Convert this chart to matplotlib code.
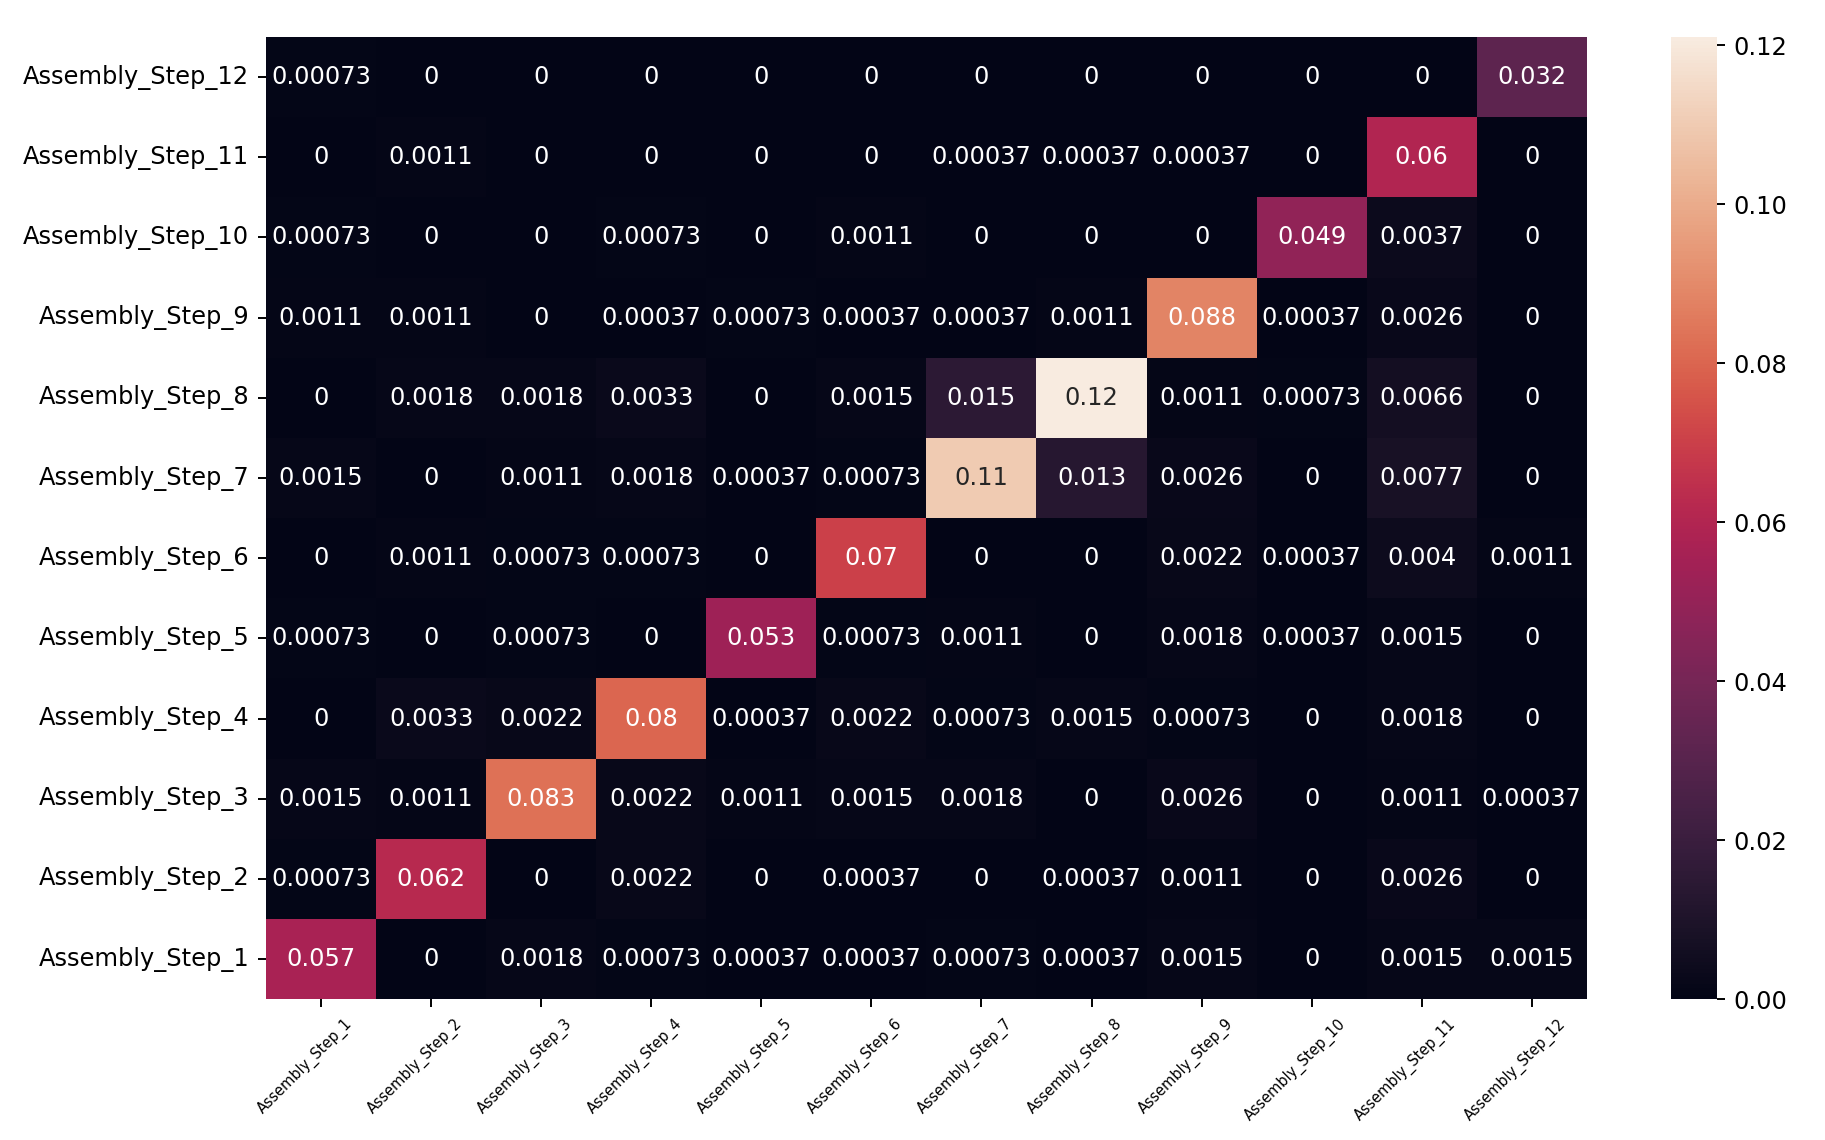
import numpy as np
import pandas as pd
import seaborn as sns
from matplotlib import pyplot as plt
from matplotlib import transforms
from matplotlib.colors import ListedColormap

steps = ["Assembly_Step_%d" % i for i in range(1, 13)]

# rows listed top to bottom: Assembly_Step_12 ... Assembly_Step_1
row_labels = steps[::-1]
col_labels = steps

step_12 = [0.00073, 0, 0, 0, 0, 0, 0, 0, 0, 0, 0, 0.032]
step_11 = [0, 0.0011, 0, 0, 0, 0, 0.00037, 0.00037, 0.00037, 0, 0.06, 0]
step_10 = [0.00073, 0, 0, 0.00073, 0, 0.0011, 0, 0, 0, 0.049, 0.0037, 0]
step_9 = [0.0011, 0.0011, 0, 0.00037, 0.00073, 0.00037, 0.00037, 0.0011, 0.088, 0.00037, 0.0026, 0]
step_8 = [0, 0.0018, 0.0018, 0.0033, 0, 0.0015, 0.015, 0.121, 0.0011, 0.00073, 0.0066, 0]
step_7 = [0.0015, 0, 0.0011, 0.0018, 0.00037, 0.00073, 0.11, 0.013, 0.0026, 0, 0.0077, 0]
step_6 = [0, 0.0011, 0.00073, 0.00073, 0, 0.07, 0, 0, 0.0022, 0.00037, 0.004, 0.0011]
step_5 = [0.00073, 0, 0.00073, 0, 0.053, 0.00073, 0.0011, 0, 0.0018, 0.00037, 0.0015, 0]
step_4 = [0, 0.0033, 0.0022, 0.08, 0.00037, 0.0022, 0.00073, 0.0015, 0.00073, 0, 0.0018, 0]
step_3 = [0.0015, 0.0011, 0.083, 0.0022, 0.0011, 0.0015, 0.0018, 0, 0.0026, 0, 0.0011, 0.00037]
step_2 = [0.00073, 0.062, 0, 0.0022, 0, 0.00037, 0, 0.00037, 0.0011, 0, 0.0026, 0]
step_1 = [0.057, 0, 0.0018, 0.00073, 0.00037, 0.00037, 0.00073, 0.00037, 0.0015, 0, 0.0015, 0.0015]

matrix = pd.DataFrame(
    [step_12, step_11, step_10, step_9, step_8, step_7,
     step_6, step_5, step_4, step_3, step_2, step_1],
    index=row_labels, columns=col_labels)

# rocket, toned down a little to match the softer reds of the original
rgb = np.array(sns.color_palette("rocket", 256))
grey = (rgb @ np.array([0.299, 0.587, 0.114]))[:, None]
cmap = ListedColormap(0.8 * rgb + 0.2 * grey)

fig = plt.figure(figsize=(1826 / 174, 1140 / 174), dpi=174)
ax = fig.add_axes([0.1457, 0.1235, 0.7233, 0.844])
cax = fig.add_axes([0.915, 0.1235, 0.0252, 0.844])

sns.heatmap(matrix, annot=True, cmap=cmap, ax=ax, cbar_ax=cax)
ax.tick_params(axis="x", labelsize=6)
plt.setp(ax.get_yticklabels(), rotation=0)

# nudge rotated x labels a bit to the left like the original
shift = transforms.ScaledTranslation(-16 / 174, 0, fig.dpi_scale_trans)
for lbl in ax.get_xticklabels():
    lbl.set_rotation(45)
    lbl.set_transform(lbl.get_transform() + shift)

fig.savefig("out.png", dpi=174, facecolor="white")
